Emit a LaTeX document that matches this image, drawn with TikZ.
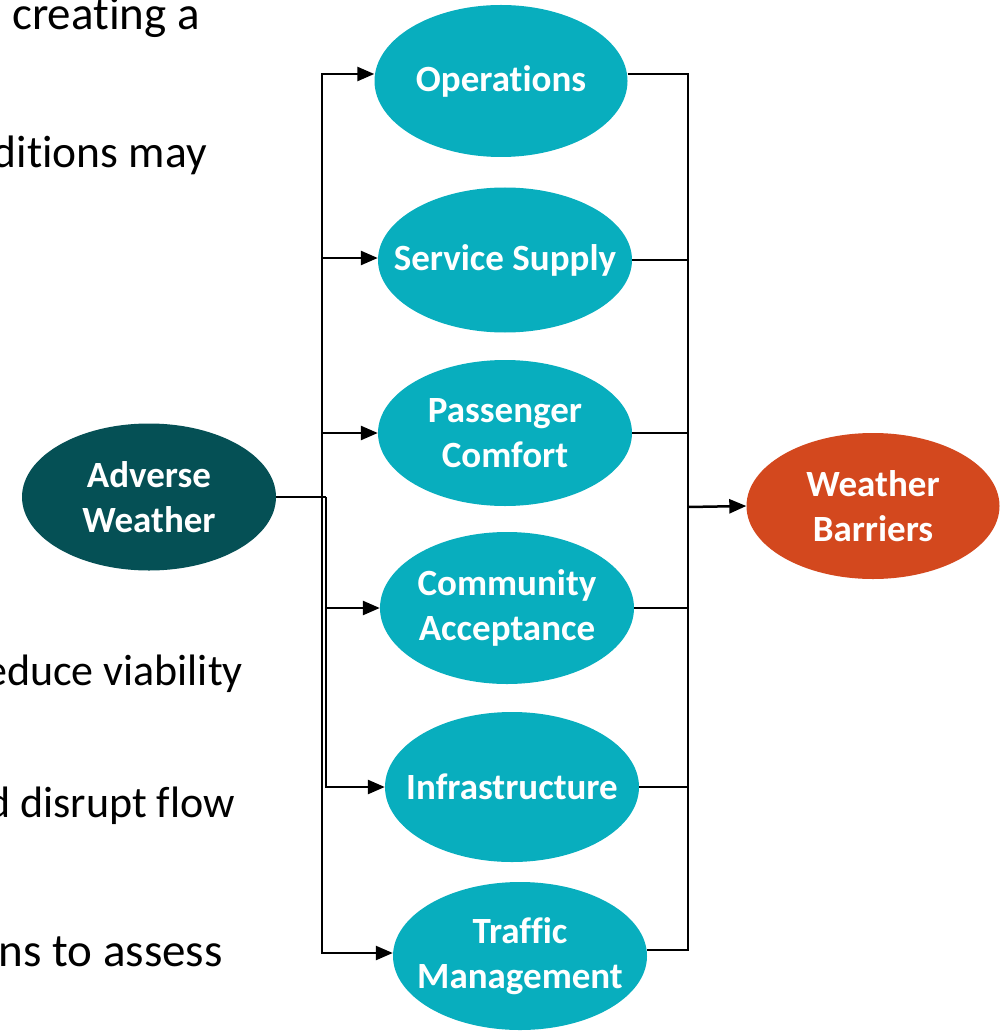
\documentclass[tikz,border=0pt]{standalone}
\usepackage{fontspec}
\setmainfont{Carlito}[Ligatures=NoCommon]
\usetikzlibrary{shapes.geometric,arrows.meta}
\definecolor{tealc}{RGB}{8,174,190}
\definecolor{darkc}{RGB}{5,80,85}
\definecolor{orangec}{RGB}{211,72,30}
\tikzset{
  ell/.style={ellipse, fill=tealc, draw=none, inner sep=0pt, minimum width=254pt, minimum height=148pt},
  lbl/.style={text=white, font=\bfseries\fontsize{37}{45}\selectfont, align=center, inner sep=0pt},
  side/.style={text=black, font=\fontsize{#1}{54}\selectfont, inner sep=0pt, anchor=base east},
  side/.default=44,
  conn/.style={line width=2.5pt, draw=black},
  arr/.style={conn, -{Triangle[length=17pt,width=14pt]}}
}
\begin{document}
\begin{tikzpicture}[x=1pt,y=-1pt]
\useasboundingbox (0,0) rectangle (1003,1032);
\clip (0,0) rectangle (1003,1032);
% side text fragments
\node[side=47] (t1) at (200,30) {creating a};
\node[side=45.5] (t2) at (207,168) {nditions may};
\node[side=44] (t3) at (243,685) {educe viability};
\node[side=44] (t4) at (235,817) {d disrupt flow};
\node[side=47] (t5) at (223,966) {ns to assess};
% nodes
\node[ell, fill=darkc, minimum height=147pt, label={[lbl]center:{Adverse\\Weather}}] (aw) at (149,497) {};
\node[ell, minimum height=152pt, minimum width=253pt, label={[lbl]center:Operations}] (ops) at (501,81) {};
\node[ell, minimum height=145pt, label={[lbl]center:Service Supply}] (ss) at (505,260) {};
\node[ell, minimum height=146pt, label={[lbl]center:{Passenger\\Comfort}}] (pc) at (505,433) {};
\node[ell, minimum height=152pt, label={[lbl]center:{Community\\Acceptance}}] (ca) at (507,608) {};
\node[ell, minimum height=150pt, label={[lbl]center:Infrastructure}] (inf) at (512,787) {};
\node[ell, minimum height=148pt, label={[lbl]center:{Traffic\\Management}}] (tm) at (520,956) {};
\node[ell, fill=orangec, minimum height=146pt, minimum width=253pt, label={[lbl]center:{Weather\\Barriers}}] (wb) at (873,506) {};
% left connectors
\coordinate (lt) at (322,497);
\coordinate (lt2) at (326,497);
\draw[conn] (aw.east) -- (lt2);
\draw[arr] (lt) |- ([yshift=7pt]ops.west);
\draw[arr] (lt) |- ([yshift=2pt]ss.west);
\draw[arr] (lt) |- (pc.west);
\draw[arr] (lt2) |- (ca.west);
\draw[arr] (lt2) |- (inf.west);
\draw[arr] (lt) |- ([yshift=3pt]tm.west);
% right connectors
\coordinate (rt) at (688,507);
\draw[conn] ([yshift=7pt]ops.east) -| (rt);
\draw[conn] (ss.east) -| (rt);
\draw[conn] (pc.east) -| (rt);
\draw[conn] (ca.east) -| (rt);
\draw[conn] (inf.east) -| (rt);
\draw[conn] ([yshift=6pt]tm.east) -| (rt);
\draw[arr] (rt) -- (wb.west);
\end{tikzpicture}
\end{document}
